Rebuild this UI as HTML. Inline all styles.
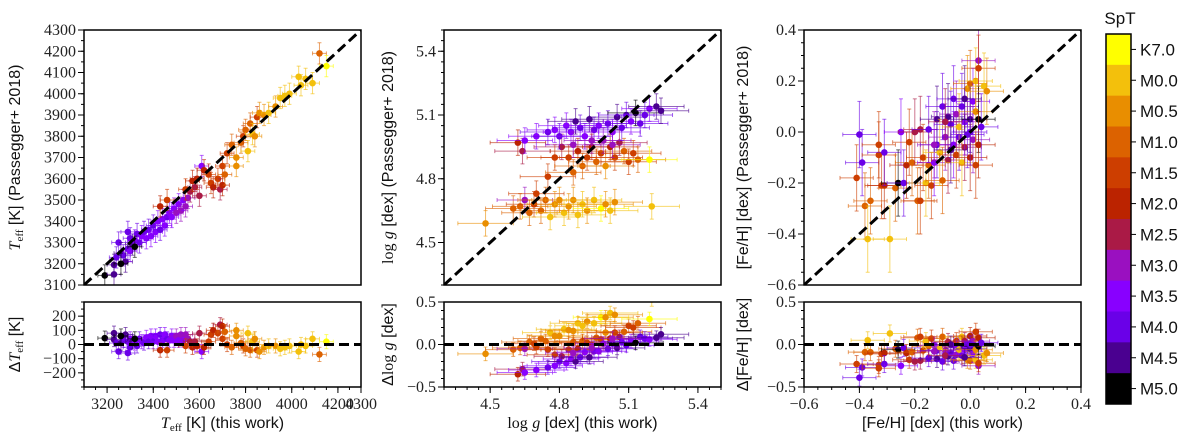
<!DOCTYPE html>
<html><head><meta charset="utf-8"><style>
html,body{margin:0;padding:0;background:#fff;}
svg{display:block;}
.tk{font-family:"Liberation Serif",serif;font-size:16px;fill:#222;}
.lb{font-family:"Liberation Sans",sans-serif;font-size:16px;fill:#111;}
.cb{font-family:"Liberation Sans",sans-serif;font-size:17px;fill:#111;}
</style></head><body>
<svg id="chart" width="1200" height="441" viewBox="0 0 1200 441" xmlns="http://www.w3.org/2000/svg"></svg>
<script>
const sptLabels=["K7.0","M0.0","M0.5","M1.0","M1.5","M2.0","M2.5","M3.0","M3.5","M4.0","M4.5","M5.0"];
const sptColors=["#ffff00","#f3c00c","#e98e00","#dc6200","#cd3e00","#bb2300","#aa1a46","#9a10c0","#8800ff","#6a00e8","#4a0090","#000000"];
// Panel 1: Teff [this work, Passegger, SpT index]
const teffThis=[3190,3230,3230,3240,3250,3260,3270,3280,3290,3300,3300,3310,3320,3330,3340,3350,3360,3370,3380,3390,3400,3410,3420,3430,3440,3450,3460,3470,3480,3490,3500,3510,3520,3530,3540,3550,3560,3570,3580,3590,3600,3610,3620,3640,3650,3660,3680,3690,3700,3700,3710,3720,3740,3760,3780,3790,3800,3820,3830,3850,3860,3880,3900,3930,3950,3970,3990,4030,4040,4060,4090,4120,4150,3810,3840,3760,3430,3460,3540,3290,3260,3320];
const teffPass=[3145,3150,3195,3230,3300,3250,3240,3210,3270,3260,3320,3290,3310,3340,3300,3330,3350,3320,3360,3330,3380,3350,3400,3360,3410,3380,3420,3440,3420,3460,3440,3480,3450,3500,3470,3510,3540,3590,3560,3600,3520,3660,3640,3620,3580,3560,3600,3550,3570,3660,3620,3720,3760,3700,3770,3800,3830,3860,3810,3890,3910,3900,3910,3940,3980,3990,4000,4080,4040,4070,4050,4190,4130,3730,3800,3660,3470,3500,3550,3350,3200,3280];
const teffSpt=[11,10,10,9,9,10,9,10,9,8,9,10,8,9,9,8,9,8,9,8,9,8,8,9,8,8,9,8,8,8,7,8,7,8,7,7,6,5,6,5,6,8,5,4,4,5,4,6,5,4,3,4,3,2,3,4,3,3,1,4,2,2,1,2,1,1,1,1,1,1,1,3,0,1,2,2,5,4,4,9,11,11];
// Panel 2: log g
const loggThis=[4.48,4.60,4.63,4.65,4.67,4.69,4.70,4.72,4.74,4.76,4.78,4.80,4.82,4.84,4.86,4.88,4.90,4.92,4.95,4.98,5.00,5.02,5.04,5.20,4.62,4.64,4.75,4.78,4.81,4.84,4.86,4.88,4.90,4.92,4.94,4.96,4.98,5.00,5.02,5.04,5.06,5.08,5.10,5.12,5.14,5.19,4.65,4.70,4.75,4.78,4.80,4.83,4.85,4.87,4.89,4.91,4.93,4.95,4.97,4.99,5.01,5.03,5.05,5.07,5.09,5.11,5.13,5.15,5.17,5.19,5.22,5.24,4.86,4.94,5.03];
const loggPass=[4.59,4.66,4.67,4.70,4.64,4.68,4.73,4.65,4.70,4.62,4.68,4.70,4.64,4.67,4.70,4.63,4.68,4.65,4.70,4.66,4.68,4.65,4.69,4.67,4.97,4.93,4.81,4.90,4.95,4.90,4.83,4.93,4.86,4.90,4.95,4.88,4.92,4.86,4.95,4.90,4.97,4.93,4.88,4.92,4.89,4.89,4.98,5.00,5.02,5.03,5.00,5.05,5.02,5.07,5.04,5.00,5.08,5.03,5.05,4.98,5.06,5.02,5.09,5.04,5.10,5.07,5.11,5.06,5.10,5.13,5.14,5.12,4.96,4.98,4.96];
const loggSpt=[2,3,3,7,3,4,4,3,3,1,2,2,1,2,2,1,1,2,1,0,2,1,2,1,5,6,4,4,6,4,3,5,3,4,5,3,4,2,5,4,6,3,4,4,3,0,8,8,9,8,9,8,8,10,9,8,10,9,8,7,9,8,10,9,9,8,11,9,9,8,10,10,7,7,7];
// Panel 3: [Fe/H]
const fehThis=[-0.41,-0.40,-0.39,-0.38,-0.37,-0.36,-0.33,-0.33,-0.32,-0.31,-0.31,-0.29,-0.27,-0.26,-0.25,-0.24,-0.23,-0.22,-0.21,-0.20,-0.19,-0.18,-0.18,-0.17,-0.16,-0.15,-0.15,-0.14,-0.13,-0.12,-0.12,-0.11,-0.10,-0.10,-0.09,-0.08,-0.08,-0.07,-0.06,-0.06,-0.05,-0.05,-0.04,-0.04,-0.03,-0.03,-0.02,-0.02,-0.01,-0.01,0.00,0.00,0.00,0.01,0.01,0.02,0.02,0.02,0.03,0.03,0.03,0.03,0.04,0.05,0.06,-0.13,-0.09,-0.07,0.0,-0.02];
const fehPass=[-0.18,-0.01,-0.12,-0.29,-0.42,-0.27,-0.05,-0.09,-0.21,-0.21,-0.08,-0.42,-0.22,-0.20,0.00,-0.20,-0.13,-0.04,-0.12,0.00,-0.27,0.01,-0.27,-0.10,-0.20,-0.13,0.01,-0.21,-0.12,-0.05,0.05,-0.08,-0.19,0.10,-0.02,0.06,-0.11,0.03,-0.05,0.13,-0.09,0.07,-0.02,0.02,-0.12,0.10,-0.06,0.04,0.17,-0.01,0.19,-0.10,0.05,0.12,-0.03,0.20,-0.13,0.08,0.28,0.25,0.05,-0.05,0.02,0.18,0.16,-0.05,0.04,-0.07,0.0,0.13];
const fehSpt=[4,9,9,3,1,3,4,4,4,5,9,1,3,11,8,9,5,4,3,6,3,6,4,4,1,3,9,4,8,9,10,1,3,9,7,10,6,9,8,9,4,7,9,1,1,9,6,8,2,9,3,5,10,8,7,1,4,2,7,4,11,5,9,1,2,7,6,10,9,10];
// axis tick values
const teffTicks=[3100,3200,3300,3400,3500,3600,3700,3800,3900,4000,4100,4200,4300];
const teffXTicks=[3200,3400,3600,3800,4000,4200,4300];
const teffResTicks=[-200,-100,0,100,200];
const loggTicks=[4.5,4.8,5.1,5.4];
const loggResTicks=[-0.5,0.0,0.5];
const fehTicks=[-0.6,-0.4,-0.2,0.0,0.2,0.4];
const fehResTicks=[-0.5,0.0,0.5];

const NS="http://www.w3.org/2000/svg";
const svg=document.getElementById('chart');
function el(tag,attrs,parent){const e=document.createElementNS(NS,tag);for(const k in attrs)e.setAttribute(k,attrs[k]);(parent||svg).appendChild(e);return e;}
function fmt(v,d){let s=v.toFixed(d);if(v<0&&Math.abs(v)>1e-9)s="\u2212"+s.slice(1);return s;}

function panel(cfg){
  const g=el('g',{});
  
  
  const L=cfg.x0,R=cfg.x1,T=30,B=285,RT=302,RB=387;
  const sx=v=>L+(v-cfg.xr[0])/(cfg.xr[1]-cfg.xr[0])*(R-L);
  const sy=v=>B-(v-cfg.yr[0])/(cfg.yr[1]-cfg.yr[0])*(B-T);
  const sr=v=>RB-(v-cfg.rr[0])/(cfg.rr[1]-cfg.rr[0])*(RB-RT);
  const clipId=cfg.name+'-clip',clipR=cfg.name+'-clipr';
  const defs=el('defs',{},g);
  const c1=el('clipPath',{id:clipId},defs);el('rect',{x:L,y:T,width:R-L,height:B-T},c1);
  const c2=el('clipPath',{id:clipR},defs);el('rect',{x:L,y:RT,width:R-L,height:RB-RT},c2);
  const main=el('g',{'clip-path':`url(#${clipId})`},g);
  
  
  const res=el('g',{'clip-path':`url(#${clipR})`},g);
  
  
  const n=cfg.xs.length;
  function drawPt(grp,x,y,ex,ey,col){
    const a={stroke:col,'stroke-width':1,'stroke-opacity':0.6};
    el('line',Object.assign({x1:x-ex,x2:x+ex,y1:y,y2:y},a),grp);
    el('line',Object.assign({x1:x,x2:x,y1:y-ey,y2:y+ey},a),grp);
    el('line',Object.assign({x1:x-ex,x2:x-ex,y1:y-2,y2:y+2},a),grp);
    el('line',Object.assign({x1:x+ex,x2:x+ex,y1:y-2,y2:y+2},a),grp);
    el('line',Object.assign({x1:x-2,x2:x+2,y1:y-ey,y2:y-ey},a),grp);
    el('line',Object.assign({x1:x-2,x2:x+2,y1:y+ey,y2:y+ey},a),grp);
    const d=el('circle',{cx:x,cy:y,r:3.3,fill:col},grp);
    
    
  }
  for(let i=0;i<n;i++){
    const col=sptColors[cfg.s[i]];
    const x=sx(cfg.xs[i]),ex=sx(cfg.xs[i]+cfg.ex)-x;
    drawPt(main,x,sy(cfg.ys[i]),ex,sy(cfg.ys[i])-sy(cfg.ys[i]+cfg.ey),col);
    const d=cfg.xs[i]-cfg.ys[i];
    drawPt(res,x,sr(d),ex,sr(d)-sr(d+cfg.er),col);
  }
  const id=el('line',{x1:sx(cfg.xr[0]),y1:sy(cfg.xr[0]),x2:sx(cfg.xr[1]),y2:sy(cfg.xr[1]),stroke:'#000','stroke-width':3,'stroke-dasharray':'10,5'},main);
  
  
  const zl=el('line',{x1:L,x2:R,y1:sr(0),y2:sr(0),stroke:'#000','stroke-width':3,'stroke-dasharray':'10,5'},res);
  
  
  el('rect',{x:L,y:T,width:R-L,height:B-T,fill:'none',stroke:'#000','stroke-width':1.5},g);
  el('rect',{x:L,y:RT,width:R-L,height:RB-RT,fill:'none',stroke:'#000','stroke-width':1.5},g);
  const tk={stroke:'#000','stroke-width':1};
  for(let v=cfg.xr[0];v<=cfg.xr[1]+1e-9;v+=cfg.xm){const x=sx(v);el('line',Object.assign({x1:x,x2:x,y1:RB,y2:RB+3},tk),g);}
  for(let v=cfg.yr[0];v<=cfg.yr[1]+1e-9;v+=cfg.ym){const y=sy(v);el('line',Object.assign({x1:L,x2:L-3,y1:y,y2:y},tk),g);}
  for(let v=cfg.rr[0];v<=cfg.rr[1]+1e-9;v+=cfg.rm){const y=sr(v);el('line',Object.assign({x1:L,x2:L-3,y1:y,y2:y},tk),g);}
  cfg.xt.forEach(v=>{const x=sx(v);el('line',Object.assign({x1:x,x2:x,y1:RB,y2:RB+6},tk),g);
    const t=el('text',{x:x,y:RB+22,'text-anchor':'middle',class:'tk'},g);t.textContent=fmt(v,cfg.xd);
    });
  cfg.yt.forEach(v=>{const y=sy(v);el('line',Object.assign({x1:L,x2:L-6,y1:y,y2:y},tk),g);
    const t=el('text',{x:L-8,y:y+5,'text-anchor':'end',class:'tk'},g);t.textContent=fmt(v,cfg.yd);
    });
  cfg.rt.forEach(v=>{const y=sr(v);el('line',Object.assign({x1:L,x2:L-6,y1:y,y2:y},tk),g);
    const t=el('text',{x:L-8,y:y+5,'text-anchor':'end',class:'tk'},g);t.textContent=fmt(v,cfg.rd);
    });
  const xl=el('text',{x:(L+R)/2,y:428,'text-anchor':'middle',class:'lb'},g);xl.innerHTML=cfg.xlab;
  
  const yl=el('text',{x:0,y:0,'text-anchor':'middle',class:'lb',transform:`translate(${cfg.ylx},${(T+B)/2}) rotate(-90)`},g);yl.innerHTML=cfg.ylab;
  
  const rl=el('text',{x:0,y:0,'text-anchor':'middle',class:'lb',transform:`translate(${cfg.ylx},${(RT+RB)/2}) rotate(-90)`},g);rl.innerHTML=cfg.rlab;
  
}
const it=s=>`<tspan font-family="Liberation Serif" font-style="italic">${s}</tspan>`;
const teff=`${it('T')}<tspan font-size="11" dy="3" font-family="Liberation Serif">eff</tspan><tspan dy="-3"> [K]</tspan>`;
panel({name:'teff-panel',x0:84,x1:361,xr:[3100,4300],yr:[3100,4300],rr:[-300,300],xs:teffThis,ys:teffPass,s:teffSpt,ex:30,ey:50,er:50,
  xt:teffXTicks,yt:teffTicks,rt:teffResTicks,xd:0,yd:0,rd:0,xm:50,ym:50,rm:50,ylx:20,
  xlab:teff+' (this work)',ylab:teff+' (Passegger+ 2018)',rlab:'\u0394'+teff});
const lg=`<tspan font-family="Liberation Serif">log</tspan> ${it('g')} [dex]`;
panel({name:'logg-panel',x0:444,x1:721,xr:[4.3,5.5],yr:[4.3,5.5],rr:[-0.5,0.5],xs:loggThis,ys:loggPass,s:loggSpt,ex:0.12,ey:0.06,er:0.08,
  xt:loggTicks,yt:loggTicks,rt:loggResTicks,xd:1,yd:1,rd:1,xm:0.05,ym:0.05,rm:0.1,ylx:393,
  xlab:lg+' (this work)',ylab:lg+' (Passegger+ 2018)',rlab:'\u0394'+lg});
panel({name:'feh-panel',x0:804,x1:1081,xr:[-0.6,0.4],yr:[-0.6,0.4],rr:[-0.5,0.5],xs:fehThis,ys:fehPass,s:fehSpt,ex:0.06,ey:0.13,er:0.1,
  xt:fehTicks,yt:fehTicks,rt:fehResTicks,xd:1,yd:1,rd:1,xm:0.05,ym:0.05,rm:0.1,ylx:748,
  xlab:'[Fe/H] [dex] (this work)',ylab:'[Fe/H] [dex] (Passegger+ 2018)',rlab:'\u0394[Fe/H] [dex]'});
const cbg=el('g',{});


const cbT=34,cbB=404,cbL=1106,cbW=25,seg=(cbB-cbT)/sptLabels.length;
sptLabels.forEach((lab,i)=>{
  el('rect',{x:cbL,y:cbT+i*seg,width:cbW,height:seg+0.5,fill:sptColors[i]},cbg);
  const yc=cbT+(i+0.5)*seg;
  el('line',{x1:cbL+cbW,x2:cbL+cbW+5,y1:yc,y2:yc,stroke:'#000'},cbg);
  const t=el('text',{x:cbL+cbW+9,y:yc+6,class:'cb'},cbg);t.textContent=lab;
  
});
el('rect',{x:cbL,y:cbT,width:cbW,height:cbB-cbT,fill:'none',stroke:'#000','stroke-width':1.5},cbg);
const st=el('text',{x:1120,y:24,'text-anchor':'middle',class:'cb','font-size':'24'},cbg);st.textContent='SpT';

</script>
</body></html>
